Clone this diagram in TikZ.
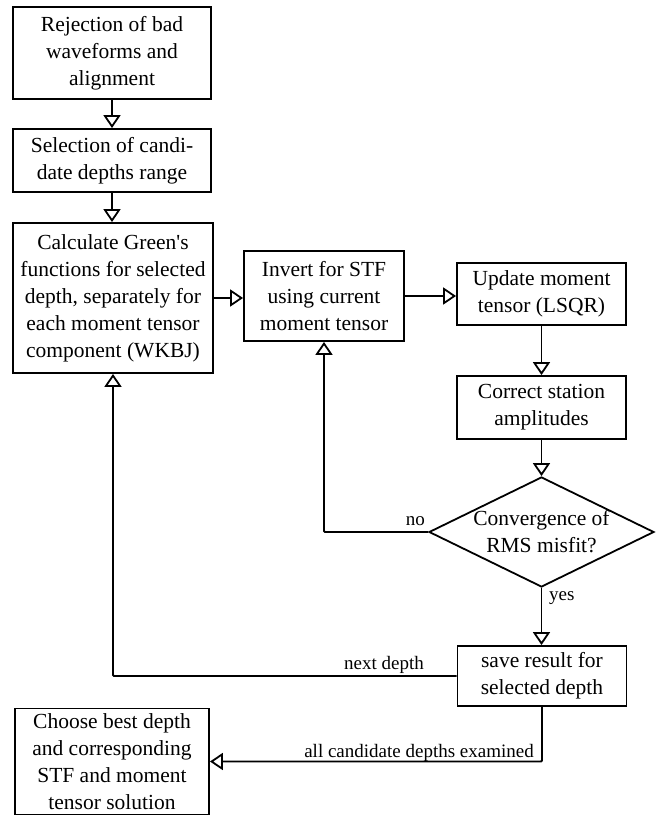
\documentclass[tikz,border=0pt]{standalone}
\usepackage{fontspec}
\setmainfont{Liberation Serif}
\usetikzlibrary{shapes.geometric,arrows.meta}
\begin{document}
\begin{tikzpicture}[x=1pt,y=-1pt,
  box/.style={draw,line width=1.8pt,rectangle,inner sep=0pt,align=center,
    font=\fontsize{21.5}{27}\selectfont},
  dec/.style={draw,line width=1.8pt,diamond,inner sep=0pt,
    minimum width=225pt,minimum height=110pt},
  arr/.style={line width=1.8pt,-{Triangle[open,length=13pt,width=17pt,line width=1.8pt]}},
  lab/.style={inner sep=0pt,font=\fontsize{19}{23}\selectfont}]
\useasboundingbox (0,0) rectangle (657,816);
\node[box,minimum width=198pt,minimum height=92pt] (b1) at (112,53)
  {Rejection of bad\\waveforms and\\alignment};
\node[box,minimum width=198pt,minimum height=63pt] (b2) at (112,160.5)
  {Selection of candi-\\date depths range};
\node[box,minimum width=200pt,minimum height=150pt] (b3) at (113,298)
  {Calculate Green\textquotesingle s\\functions for selected\\depth, separately for\\each moment tensor\\component (WKBJ)};
\node[box,minimum width=160pt,minimum height=90pt] (b4) at (324,296)
  {Invert for STF\\using current\\moment tensor};
\node[box,minimum width=169pt,minimum height=62pt] (b5) at (541.5,294)
  {Update moment\\tensor (LSQR)};
\node[box,minimum width=169pt,minimum height=63pt] (b6) at (541.5,407.5)
  {Correct station\\amplitudes};
\node[dec,label={[align=center,font=\fontsize{21.5}{27}\selectfont]center:Convergence of\\RMS misfit?}] (d) at (541.5,532) {};
\node[box,minimum width=169pt,minimum height=60pt] (b7) at (542,676)
  {save result for\\selected depth};
\node[box,minimum width=194pt,minimum height=106pt] (b8) at (112,761.5)
  {Choose best depth\\and corresponding\\STF and moment\\tensor solution};

\draw[arr] (b1.south) -- (b2.north);
\draw[arr] (b2.south) -- (b2.south |- b3.north);
\draw[arr] (b3.east) -- (b3.east -| b4.west);
\draw[arr] (b4.east) -- (b4.east -| b5.west);
\draw[arr] (b5.south) -- (b6.north);
\draw[arr] (b6.south) -- (d.north);
\draw[arr,rounded corners=1pt] (d.west) -| (b4.south);
\draw[arr] (d.south) -- (d.south |- b7.north);
\draw[arr,rounded corners=1pt] (b7.west) -| (b3.south);
\draw[arr,rounded corners=1pt] (b7.south) |- (b8.east);

\node[lab,anchor=base east] (lno) at (425,525) {no};
\node[lab,anchor=base west] (lyes) at (549,600) {yes};
\node[lab,anchor=base east] (lnext) at (424,669) {next depth};
\node[lab,anchor=base east] (lall) at (534,757) {all candidate depths examined};
\end{tikzpicture}
\end{document}
